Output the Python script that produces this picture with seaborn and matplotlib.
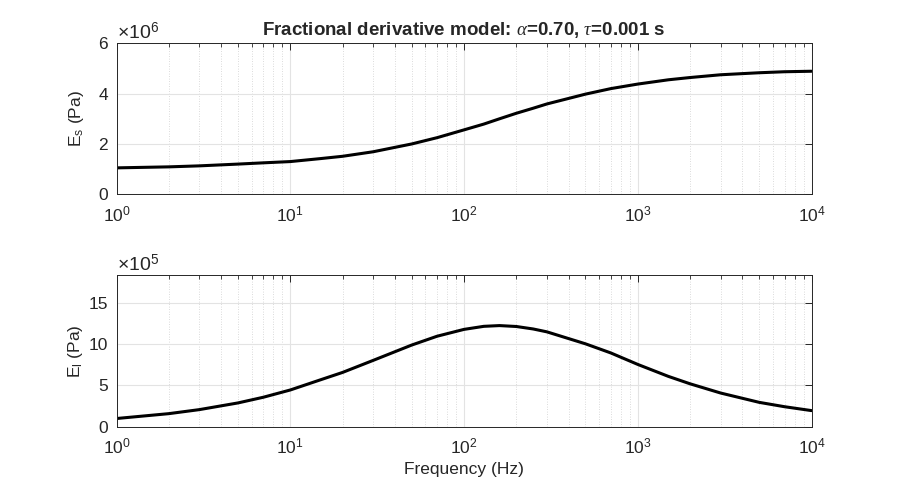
import numpy as np
import pandas as pd
import matplotlib
matplotlib.use("Agg")
import matplotlib.pyplot as plt
import seaborn as sns
from matplotlib.ticker import LogLocator, FixedLocator, FuncFormatter, NullFormatter

# values
freq_hz = [1, 2, 3, 5, 7, 10, 15, 20, 30, 50, 70, 100, 130, 160, 200, 250, 300,
           500, 700, 1000, 1500, 2000, 3000, 5000, 7000, 10000]
storage_e6 = [1.05, 1.09, 1.13, 1.20, 1.25, 1.30, 1.42, 1.51, 1.69, 2.00, 2.25,
              2.56, 2.79, 3.00, 3.22, 3.42, 3.59, 3.98, 4.20, 4.38, 4.55, 4.64,
              4.75, 4.83, 4.87, 4.89]
loss_e5 = [0.99, 1.58, 2.07, 2.88, 3.57, 4.45, 5.70, 6.58, 8.04, 9.90, 10.97,
           11.80, 12.17, 12.26, 12.15, 11.85, 11.50, 10.05, 8.94, 7.55, 6.10,
           5.20, 4.08, 2.95, 2.42, 1.95]

title = r"Fractional derivative model: $\alpha$=0.70, $\tau$=0.001 s"
top_ticks = [0, 2, 4, 6]
bottom_ticks = [0, 5, 10, 15]

df = pd.DataFrame({
    "f": freq_hz,
    "Es": np.array(storage_e6) * 1e6,
    "El": np.array(loss_e5) * 1e5,
})

sns.set_style("white")
plt.rcParams["font.family"] = ["Liberation Sans", "DejaVu Sans"]
plt.rcParams["mathtext.fontset"] = "custom"
plt.rcParams["mathtext.rm"] = "Liberation Sans"
plt.rcParams["mathtext.it"] = "Liberation Serif:italic"
plt.rcParams["mathtext.bf"] = "Liberation Sans:bold"

axc = "#262626"
fig = plt.figure(figsize=(8.97, 4.91), dpi=100)
ax1 = fig.add_axes([0.1299, 0.6043, 0.7748, 0.3075])
ax2 = fig.add_axes([0.1299, 0.1310, 0.7748, 0.3090])


def style_axis(ax, ticks, scale, exp):
    ax.set_xscale("log")
    ax.set_xlim(1, 1e4)
    ax.xaxis.set_major_locator(LogLocator(base=10, numticks=10))
    ax.xaxis.set_minor_locator(LogLocator(base=10, subs=np.arange(2, 10), numticks=20))
    ax.xaxis.set_minor_formatter(NullFormatter())
    ax.yaxis.set_major_locator(FixedLocator([t * scale for t in ticks]))
    ax.yaxis.set_major_formatter(FuncFormatter(lambda v, p: f"{v / scale:g}"))
    ax.grid(True, which="major", color="#e3e3e3", lw=0.8, ls="-")
    ax.grid(True, which="minor", axis="x", color="#cfcfcf", lw=0.6, ls=(0, (1, 2)))
    ax.set_axisbelow(True)
    ax.tick_params(which="both", direction="in", top=True, right=True,
                   colors=axc, labelsize=12.5, labelcolor="#262626")
    ax.tick_params(axis="x", which="major", pad=7)
    ax.tick_params(axis="y", which="major", pad=6)
    ax.tick_params(which="major", length=5, width=0.7)
    ax.tick_params(which="minor", length=3, width=0.6)
    for s in ax.spines.values():
        s.set_color(axc)
        s.set_linewidth(0.7)
    ax.text(0.0, 1.0, r"$\times10^{%d}$" % exp, transform=ax.transAxes,
            ha="left", va="bottom", fontsize=14, color=axc)


sns.lineplot(data=df, x="f", y="Es", ax=ax1, color="black", lw=2.2)
ax1.set_ylim(0, 6e6)
style_axis(ax1, top_ticks, 1e6, 6)
ax1.set_xlabel("")
ax1.set_ylabel(r"E$_\mathregular{s}$ (Pa)", fontsize=12.5, color=axc, labelpad=9)
ax1.set_title(title, fontsize=13.5, fontweight="bold", pad=6)

sns.lineplot(data=df, x="f", y="El", ax=ax2, color="black", lw=2.2)
ax2.set_ylim(0, 1.84e6)
style_axis(ax2, bottom_ticks, 1e5, 5)
ax2.set_xlabel("Frequency (Hz)", fontsize=12.5, color=axc)
ax2.set_ylabel(r"E$_\mathregular{l}$ (Pa)", fontsize=12.5, color=axc, labelpad=3)

fig.savefig("out.png", dpi=100)
